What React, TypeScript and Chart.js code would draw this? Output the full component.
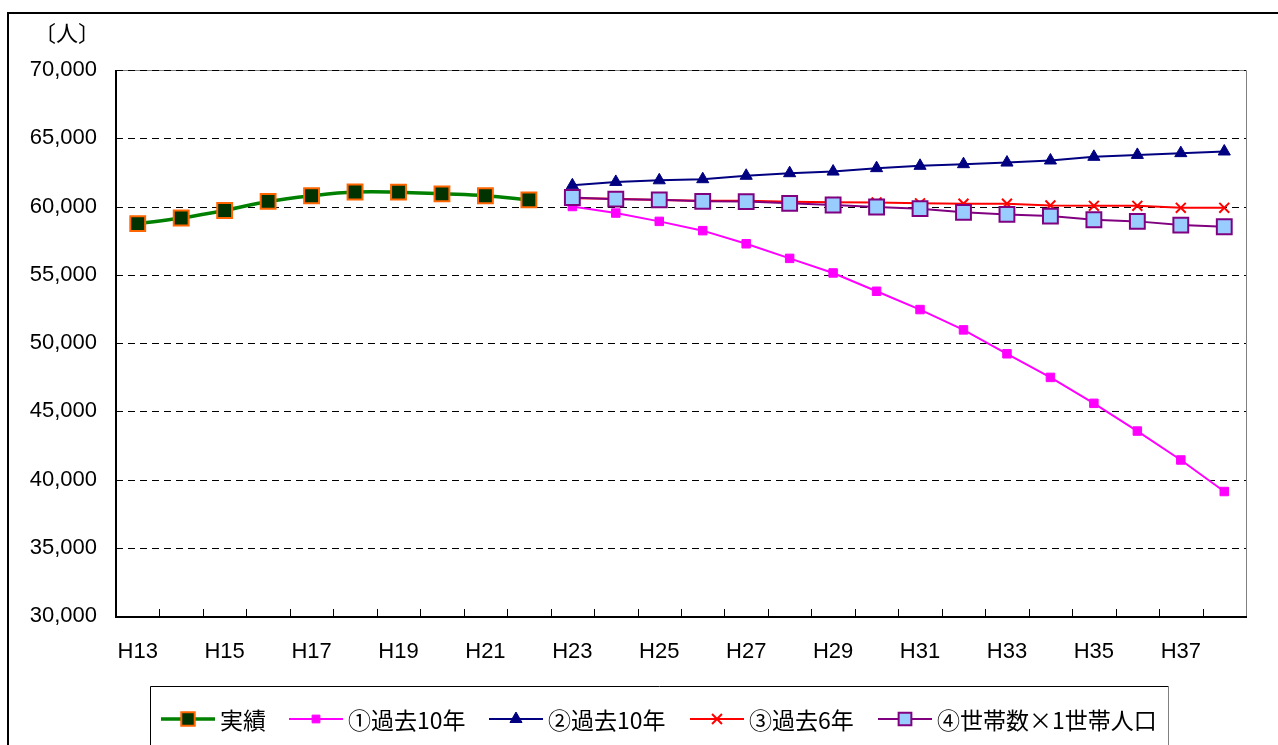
import React, { useEffect, useRef } from 'react';
import { Chart, registerables } from 'chart.js';

Chart.register(...registerables);

// ---- data ----
const yearLabels = [
  'H13', 'H14', 'H15', 'H16', 'H17', 'H18', 'H19', 'H20', 'H21', 'H22',
  'H23', 'H24', 'H25', 'H26', 'H27', 'H28', 'H29', 'H30', 'H31', 'H32',
  'H33', 'H34', 'H35', 'H36', 'H37', 'H38',
];
// 実績 H13–H22
const actualValues = [58740, 59160, 59710, 60370, 60790, 61060, 61050, 60930, 60790, 60490];
// projections H23–H38
const proj1Values = [60000, 59520, 58910, 58230, 57270, 56200, 55130, 53790, 52450, 50960, 49210, 47480, 45580, 43550, 41430, 39120];
const proj2Values = [61550, 61800, 61920, 62000, 62250, 62440, 62560, 62810, 62980, 63100, 63220, 63370, 63640, 63780, 63910, 64030];
const proj3Values = [60610, 60570, 60470, 60420, 60420, 60350, 60320, 60300, 60230, 60200, 60200, 60080, 60050, 60050, 59900, 59900];
const proj4Values = [60660, 60540, 60490, 60380, 60360, 60230, 60110, 59960, 59840, 59570, 59420, 59300, 59030, 58910, 58640, 58520];
const seriesNames = ['実績', '①過去10年', '②過去10年', '③過去6年', '④世帯数×1世帯人口'];
const yMin = 30000;
const yMax = 70000;
const yStep = 5000;
const unitLabel = '〔人〕';

const padBefore = (n: number, vals: number[]) => [...Array(n).fill(null), ...vals];
const padAfter = (vals: number[], total: number) => [...vals, ...Array(total - vals.length).fill(null)];

const styles = [
  { line: '#008000', width: 3.5, point: 'rect', fill: '#003300', border: '#FF6600', pw: 2, r: 10.5, lr: 9.5, tension: 0.4 },
  { line: '#FF00FF', width: 2, point: 'rect', fill: '#FF00FF', border: '#FF00FF', pw: 1, r: 6, lr: 5.5, tension: 0 },
  { line: '#000080', width: 2, point: 'triangle', fill: '#000080', border: '#000080', pw: 1, r: 7, lr: 7, tension: 0 },
  { line: '#FF0000', width: 2, point: 'crossRot', fill: '#FF0000', border: '#FF0000', pw: 2, r: 7, lr: 7, tension: 0 },
  { line: '#800080', width: 2, point: 'rect', fill: '#99CCFF', border: '#800080', pw: 2, r: 10.5, lr: 9, tension: 0 },
];
const drawOrder = [0, 4, 3, 2, 1];
const legendStarts = [161, 289, 489, 690, 878];

function drawMarker(ctx: CanvasRenderingContext2D, style: string, x: number, y: number, r: number, fill: string, border: string, bw: number) {
  ctx.save();
  ctx.fillStyle = fill;
  ctx.strokeStyle = border;
  ctx.lineWidth = bw;
  ctx.beginPath();
  if (style === 'rect') {
    const s = Math.SQRT1_2 * r;
    ctx.rect(x - s, y - s, 2 * s, 2 * s);
    ctx.fill();
    ctx.stroke();
  } else if (style === 'triangle') {
    for (let i = 0; i < 3; i++) {
      const a = -Math.PI / 2 + (i * 2 * Math.PI) / 3;
      const px = x + Math.cos(a) * r;
      const py = y + Math.sin(a) * r;
      if (i === 0) ctx.moveTo(px, py); else ctx.lineTo(px, py);
    }
    ctx.closePath();
    ctx.fill();
    ctx.stroke();
  } else if (style === 'crossRot') {
    const o = Math.SQRT1_2 * r;
    ctx.moveTo(x - o, y - o);
    ctx.lineTo(x + o, y + o);
    ctx.moveTo(x - o, y + o);
    ctx.lineTo(x + o, y - o);
    ctx.stroke();
  }
  ctx.restore();
}

const framePlugin = {
  id: 'frame',
  beforeDatasetsDraw(chart: any) {
    const { ctx, chartArea } = chart;
    const { left, right, top, bottom } = chartArea;
    const x = chart.scales.x;
    const y = chart.scales.y;
    ctx.save();
    // top & right border (gray)
    ctx.strokeStyle = '#808080';
    ctx.lineWidth = 1;
    ctx.beginPath();
    ctx.moveTo(left, Math.round(top) + 0.5);
    ctx.lineTo(Math.round(right) + 0.5, Math.round(top) + 0.5);
    ctx.lineTo(Math.round(right) + 0.5, bottom);
    ctx.stroke();
    // dashed grid lines
    ctx.strokeStyle = '#000000';
    ctx.setLineDash([7, 5]);
    y.ticks.forEach((t: any) => {
      if (t.value === yMin) return;
      const py = Math.round(y.getPixelForValue(t.value)) + 0.5;
      ctx.beginPath();
      ctx.moveTo(left, py);
      ctx.lineTo(right, py);
      ctx.stroke();
    });
    ctx.setLineDash([]);
    // inner tick marks at category boundaries
    const n = chart.data.labels.length;
    const half = (x.getPixelForValue(1) - x.getPixelForValue(0)) / 2;
    ctx.strokeStyle = '#000000';
    ctx.lineWidth = 1;
    for (let i = 1; i < n; i++) {
      const px = Math.round(x.getPixelForValue(i) - half) + 0.5;
      ctx.beginPath();
      ctx.moveTo(px, bottom);
      ctx.lineTo(px, bottom - 7);
      ctx.stroke();
    }
    // axes
    ctx.lineWidth = 2;
    ctx.beginPath();
    ctx.moveTo(left, top);
    ctx.lineTo(left, bottom + 1);
    ctx.lineTo(right + 1, bottom + 1);
    ctx.stroke();
    ctx.restore();
  },
  afterDraw(chart: any) {
    const { ctx } = chart;
    ctx.save();
    // outer frame
    ctx.strokeStyle = '#000000';
    ctx.lineWidth = 2;
    ctx.strokeRect(8, 13, 2000, 2000);
    // unit label
    ctx.fillStyle = '#000000';
    ctx.font = '22px "Noto Sans CJK JP"';
    ctx.textBaseline = 'middle';
    ctx.textAlign = 'left';
    ctx.fillText(unitLabel, 34, 33);
    // legend box
    ctx.lineWidth = 1;
    ctx.strokeStyle = '#000000';
    ctx.beginPath();
    ctx.moveTo(150.5, 800);
    ctx.lineTo(150.5, 686.5);
    ctx.lineTo(1168.5, 686.5);
    ctx.stroke();
    ctx.strokeStyle = '#808080';
    ctx.beginPath();
    ctx.moveTo(1168.5, 686.5);
    ctx.lineTo(1168.5, 800);
    ctx.stroke();
    // legend items
    const ly = 719;
    ctx.font = '23px "Noto Sans CJK JP"';
    seriesNames.forEach((name, i) => {
      const s = styles[i];
      const x0 = legendStarts[i];
      ctx.strokeStyle = s.line;
      ctx.lineWidth = s.width;
      ctx.beginPath();
      ctx.moveTo(x0, ly);
      ctx.lineTo(x0 + 54, ly);
      ctx.stroke();
      drawMarker(ctx, s.point, x0 + 27, ly, s.lr, s.fill, s.border, s.pw);
      ctx.fillStyle = '#000000';
      ctx.textBaseline = 'middle';
      ctx.fillText(name, x0 + 59, ly + 1);
    });
    ctx.restore();
  },
};

export default function App() {
  const canvasRef = useRef<HTMLCanvasElement | null>(null);

  useEffect(() => {
    const canvas = canvasRef.current;
    if (!canvas) return;
    const total = yearLabels.length;
    const seriesData = [
      padAfter(actualValues, total),
      padBefore(total - proj1Values.length, proj1Values),
      padBefore(total - proj2Values.length, proj2Values),
      padBefore(total - proj3Values.length, proj3Values),
      padBefore(total - proj4Values.length, proj4Values),
    ];
    const datasets = seriesNames.map((name, i) => {
      const s = styles[i];
      return {
        label: name,
        data: seriesData[i],
        borderColor: s.line,
        borderWidth: s.width,
        backgroundColor: s.fill,
        pointStyle: s.point,
        pointRadius: s.r,
        pointHoverRadius: s.r,
        pointBackgroundColor: s.fill,
        pointBorderColor: s.border,
        pointBorderWidth: s.pw,
        tension: s.tension,
        fill: false,
        spanGaps: false,
        order: drawOrder.indexOf(i),
      };
    });
    const chart = new Chart(canvas, {
      type: 'line',
      data: { labels: yearLabels, datasets: datasets as any },
      options: {
        animation: false,
        responsive: false,
        devicePixelRatio: 1,
        layout: { padding: { left: 0, right: 32, top: 70, bottom: 0 } },
        plugins: { legend: { display: false }, tooltip: { enabled: false } },
        scales: {
          x: {
            type: 'category',
            offset: true,
            grid: { display: false, drawTicks: false },
            border: { display: false },
            ticks: {
              autoSkip: false,
              maxRotation: 0,
              padding: 23,
              color: '#000000',
              font: { family: '"Liberation Sans", Arial, sans-serif', size: 22 },
              callback: (_v: any, i: number) => (i % 2 === 0 ? yearLabels[i] : ''),
            },
            afterFit: (scale: any) => { scale.height = 129; },
          },
          y: {
            min: yMin,
            max: yMax,
            grid: { display: false, drawTicks: false },
            border: { display: false },
            ticks: {
              stepSize: yStep,
              padding: 19,
              color: '#000000',
              font: { family: '"Liberation Sans", Arial, sans-serif', size: 22 },
              callback: (v: any) => Number(v).toLocaleString('en-US'),
            },
            afterFit: (scale: any) => { scale.width = 116; },
          },
        },
      },
      plugins: [framePlugin],
    });
    return () => chart.destroy();
  }, []);

  return (
    <div style={{ position: 'fixed', left: 0, top: 0, width: 1278, height: 745, background: '#ffffff' }}>
      <canvas ref={canvasRef} width={1278} height={745} />
    </div>
  );
}
